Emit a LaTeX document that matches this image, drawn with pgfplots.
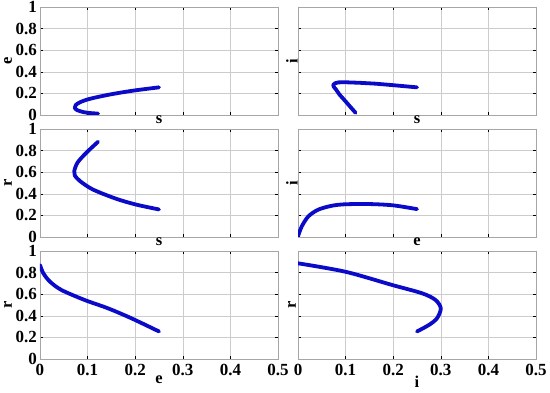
\documentclass[border=0pt]{standalone}
\usepackage{pgfplots}
\pgfplotsset{compat=1.18}
\usepackage{fontspec}
\setmainfont{Liberation Serif}
\definecolor{mblue}{RGB}{10,10,200}
\pgfplotsset{
  myax/.style={
    scale only axis, width=238pt, height=108pt,
    xmin=0, xmax=0.5, ymin=0, ymax=1,
    xtick={0,0.1,0.2,0.3,0.4,0.5}, ytick={0,0.2,0.4,0.6,0.8,1},
    grid=major, grid style={gray!40, line width=0.5pt},
    axis line style={gray!70, line width=0.5pt},
    tick align=inside, major tick length=3pt,
    tick style={black, line width=0.5pt},
    /pgf/number format/assume math mode=true,
    ticklabel style={font=\fontsize{17}{17}\selectfont\bfseries},
    yticklabel style={inner sep=0pt, xshift=-3pt},
    xticklabel style={inner sep=0pt, yshift=-5pt},
    label style={font=\fontsize{16.5}{16.5}\selectfont\bfseries},
    every axis plot/.append style={mblue, no marks, line width=3.8pt, line cap=round, line join=round},
  },
  topx/.style={xticklabels={}, xlabel style={at={(axis description cs:0.5,0)}, anchor=north, inner sep=0pt, yshift=-1pt}},
  botx/.style={xlabel style={at={(axis description cs:0.5,0)}, anchor=north, inner sep=0pt, yshift=-16.5pt}},
  lefty/.style={ylabel style={at={(axis description cs:0,0.5)}, anchor=center, inner sep=0pt, yshift=32pt}},
  righty/.style={yticklabels={}, ylabel style={at={(axis description cs:0,0.5)}, anchor=center, inner sep=0pt, yshift=6pt}},
}
\begin{document}
\begin{tikzpicture}
\path (0pt,0pt) rectangle (550pt,393pt);
% row 1
\begin{axis}[myax, topx, lefty, at={(40pt,278pt)}, anchor=south west, xlabel={s}, ylabel={e}]
\addplot[smooth, tension=0.5] coordinates {(0.25,0.256) (0.195,0.225) (0.146,0.189) (0.105,0.15) (0.085,0.12) (0.075,0.092) (0.073,0.067) (0.078,0.045) (0.091,0.027) (0.105,0.018) (0.122,0.013)};
\end{axis}
\begin{axis}[myax, topx, righty, at={(298pt,278pt)}, anchor=south west, xlabel={s}, ylabel={i}]
\addplot[sharp plot] coordinates {(0.25,0.256) (0.2,0.276) (0.163,0.29) (0.13,0.298) (0.1,0.303) (0.085,0.302) (0.078,0.294) (0.074,0.28) (0.075,0.262) (0.08,0.235) (0.087,0.19) (0.0996,0.128) (0.111,0.07) (0.121,0.02)};
\end{axis}
% row 2
\begin{axis}[myax, topx, lefty, at={(40pt,156pt)}, anchor=south west, xlabel={s}, ylabel={r}]
\addplot[smooth, tension=0.5] coordinates {(0.25,0.255) (0.202,0.30) (0.16,0.354) (0.111,0.44) (0.084,0.518) (0.073,0.57) (0.072,0.611) (0.079,0.69) (0.098,0.783) (0.122,0.882)};
\end{axis}
\begin{axis}[myax, topx, righty, at={(298pt,156pt)}, anchor=south west, xlabel={e}, ylabel={i}]
\addplot[smooth, tension=0.5] coordinates {(0.0,0.006) (0.008,0.099) (0.022,0.192) (0.043,0.254) (0.072,0.29) (0.1,0.303) (0.15,0.305) (0.2,0.293) (0.25,0.258)};
\end{axis}
% row 3
\begin{axis}[myax, botx, lefty, at={(40pt,34pt)}, anchor=south west, xlabel={e}, ylabel={r}]
\addplot[smooth, tension=0.5] coordinates {(0.0,0.87) (0.007,0.794) (0.021,0.716) (0.045,0.639) (0.094,0.546) (0.143,0.469) (0.192,0.377) (0.25,0.255)};
\end{axis}
\begin{axis}[myax, botx, righty, at={(298pt,34pt)}, anchor=south west, xlabel={i}, ylabel={r}]
\addplot[smooth, tension=0.5] coordinates {(0.25,0.255) (0.275,0.315) (0.292,0.377) (0.30,0.469) (0.289,0.546) (0.261,0.608) (0.198,0.685) (0.0996,0.808) (0,0.886)};
\end{axis}
\end{tikzpicture}
\end{document}
